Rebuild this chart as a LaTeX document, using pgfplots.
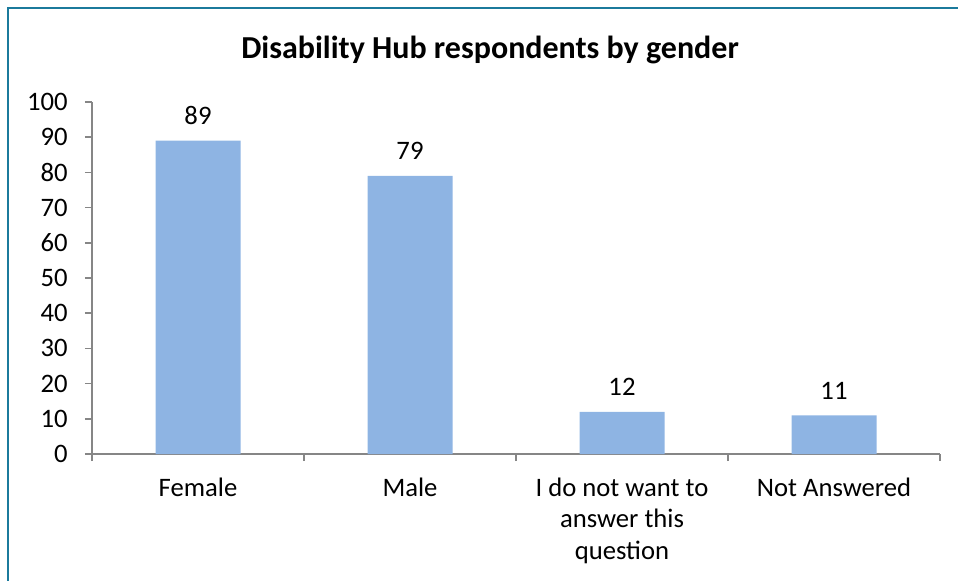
\documentclass[border=0pt]{standalone}
\usepackage{fontspec}
\setmainfont{Carlito}
\usepackage{pgfplots}
\pgfplotsset{compat=1.18}
\definecolor{barblue}{HTML}{8EB4E3}
\definecolor{axgray}{HTML}{868686}
\definecolor{frameteal}{HTML}{1B7A9C}
\begin{document}
\begin{tikzpicture}[x=0.75pt,y=-0.75pt]
\useasboundingbox (0,0) rectangle (958,581);
\draw[frameteal, line width=1.5pt] (8,581) -- (8,8) -- (958,8);
\node[font=\bfseries\fontsize{24}{28}\selectfont] at (490,50) {Disability Hub respondents by gender};
\begin{axis}[
  at={(69pt,-340.5pt)}, anchor=south west,
  width=636pt, height=264pt, scale only axis,
  /pgf/number format/assume math mode=true,
  xmin=-0.5, xmax=3.5, ymin=0, ymax=100,
  ytick distance=10,
  xtick={-0.5,0.5,1.5,2.5,3.5},
  x tick label as interval,
  xticklabels={Female, Male, {I do not want to\\answer this\\question}, Not Answered},
  axis x line*=bottom, axis y line*=left,
  axis line style={axgray, line width=1.2pt, -},
  tick align=outside,
  major tick length=5.25pt,
  tick style={axgray, line width=1.2pt},
  tick label style={font=\fontsize{20}{23.6}\selectfont},
  xticklabel style={align=center, yshift=-9pt},
  yticklabel style={xshift=-9.5pt},
  ybar, bar width=63.75pt,
  nodes near coords,
  nodes near coords style={font=\fontsize{20}{23}\selectfont, anchor=south, inner sep=0pt, yshift=12pt},
]
\addplot[fill=barblue, draw=none] coordinates {(0,89) (1,79) (2,12) (3,11)};
\end{axis}
\end{tikzpicture}
\end{document}
